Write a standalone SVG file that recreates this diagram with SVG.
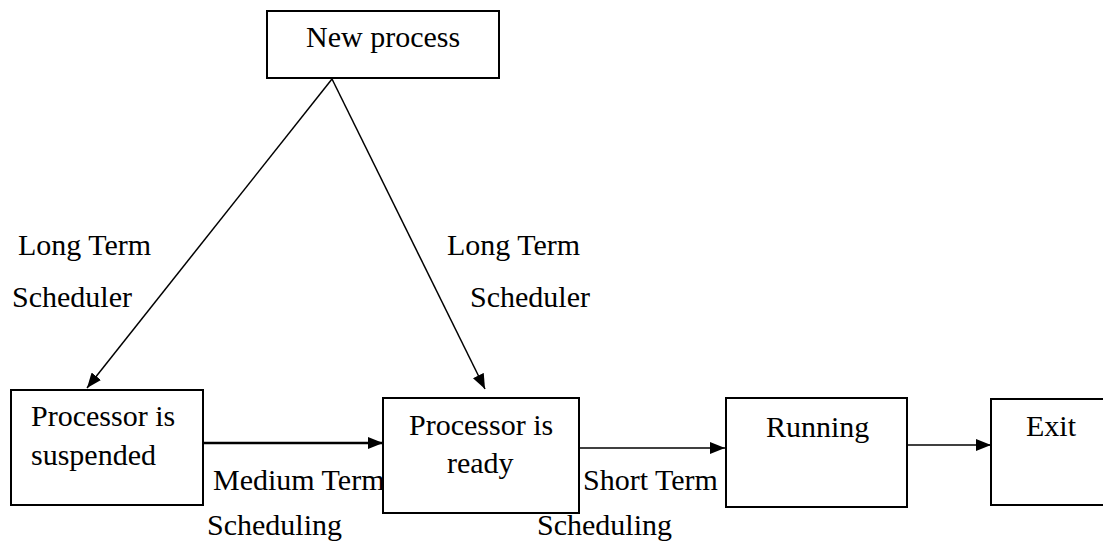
<svg xmlns="http://www.w3.org/2000/svg" width="1103" height="548" viewBox="0 0 1103 548">
<defs>
<style>
.box{fill:#fff;stroke:#000;stroke-width:2}
.t{font-family:"Liberation Serif","Times New Roman",serif;font-size:30px;fill:#000}
.c{stroke:#000;fill:none}
</style>
<marker id="ah" viewBox="0 0 15 12" refX="15" refY="6" markerWidth="15" markerHeight="12" markerUnits="userSpaceOnUse" orient="auto">
<path d="M0,0 L15,6 L0,12 Z" fill="#000"/>
</marker>
</defs>
<rect width="1103" height="548" fill="#fff"/>
<g id="labels">
<text class="t" x="18" y="255">Long Term</text>
<text class="t" x="12" y="307">Scheduler</text>
<text class="t" x="447" y="255">Long Term</text>
<text class="t" x="470" y="307">Scheduler</text>
<text class="t" x="213" y="490">Medium Term</text>
<text class="t" x="207" y="535">Scheduling</text>
<text class="t" x="583" y="490">Short Term</text>
<text class="t" x="537" y="535">Scheduling</text>
</g>
<g id="connectors">
<line class="c" stroke-width="1.5" x1="332" y1="79" x2="87" y2="388" marker-end="url(#ah)"/>
<line class="c" stroke-width="1.5" x1="332" y1="79" x2="485" y2="389" marker-end="url(#ah)"/>
<line class="c" stroke-width="2.5" x1="203" y1="443" x2="383" y2="443" marker-end="url(#ah)"/>
<line class="c" stroke-width="1.5" x1="579" y1="448" x2="725" y2="448" marker-end="url(#ah)"/>
<line class="c" stroke-width="1.5" x1="907" y1="445" x2="991" y2="445" marker-end="url(#ah)"/>
</g>
<g id="new-process">
<rect class="box" x="267" y="11" width="232" height="67"/>
<text class="t" x="306" y="47">New process</text>
</g>
<g id="suspended">
<rect class="box" x="11" y="390" width="192" height="115"/>
<text class="t" x="31" y="426">Processor is</text>
<text class="t" x="31" y="465">suspended</text>
</g>
<g id="ready">
<rect class="box" x="383" y="398" width="196" height="115"/>
<text class="t" x="409" y="435">Processor is</text>
<text class="t" x="447" y="473">ready</text>
</g>
<g id="running">
<rect class="box" x="726" y="398" width="181" height="109"/>
<text class="t" x="766" y="437">Running</text>
</g>
<g id="exit">
<rect class="box" x="991" y="399" width="120" height="106"/>
<text class="t" x="1026" y="436">Exit</text>
</g>
</svg>
